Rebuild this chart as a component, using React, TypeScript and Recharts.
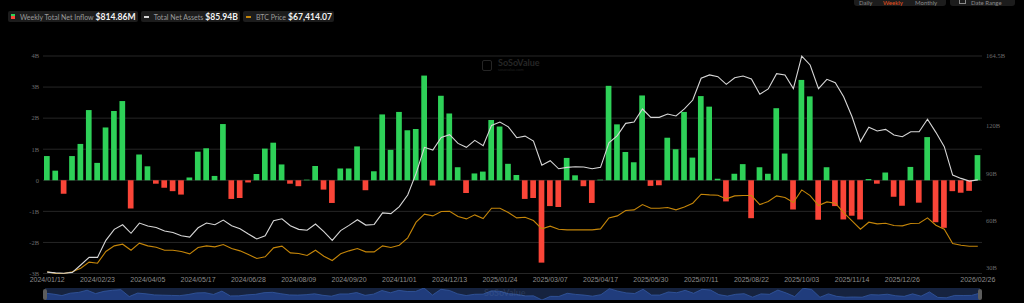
import { ComposedChart, Bar, Line, XAxis, YAxis, CartesianGrid, Cell, AreaChart, Area } from 'recharts';

const dates = [
  '2024/01/12', '2024/01/19', '2024/01/26', '2024/02/02', '2024/02/09', '2024/02/16', '2024/02/23', '2024/03/01',
  '2024/03/08', '2024/03/15', '2024/03/22', '2024/03/28', '2024/04/05', '2024/04/12', '2024/04/19', '2024/04/26',
  '2024/05/03', '2024/05/10', '2024/05/17', '2024/05/24', '2024/05/31', '2024/06/07', '2024/06/14', '2024/06/21',
  '2024/06/28', '2024/07/05', '2024/07/12', '2024/07/19', '2024/07/26', '2024/08/02', '2024/08/09', '2024/08/16',
  '2024/08/23', '2024/08/30', '2024/09/06', '2024/09/13', '2024/09/20', '2024/09/27', '2024/10/04', '2024/10/11',
  '2024/10/18', '2024/10/25', '2024/11/01', '2024/11/08', '2024/11/15', '2024/11/22', '2024/11/29', '2024/12/06',
  '2024/12/13', '2024/12/20', '2024/12/27', '2025/01/03', '2025/01/10', '2025/01/17', '2025/01/24', '2025/01/31',
  '2025/02/07', '2025/02/14', '2025/02/21', '2025/02/28', '2025/03/07', '2025/03/14', '2025/03/21', '2025/03/28',
  '2025/04/04', '2025/04/11', '2025/04/17', '2025/04/25', '2025/05/02', '2025/05/09', '2025/05/16', '2025/05/23',
  '2025/05/30', '2025/06/06', '2025/06/13', '2025/06/20', '2025/06/27', '2025/07/03', '2025/07/11', '2025/07/18',
  '2025/07/25', '2025/08/01', '2025/08/08', '2025/08/15', '2025/08/22', '2025/08/29', '2025/09/05', '2025/09/12',
  '2025/09/19', '2025/09/26', '2025/10/03', '2025/10/10', '2025/10/17', '2025/10/24', '2025/10/31', '2025/11/07',
  '2025/11/14', '2025/11/21', '2025/11/28', '2025/12/05', '2025/12/12', '2025/12/19', '2025/12/26', '2026/01/02',
  '2026/01/09', '2026/01/16', '2026/01/23', '2026/01/30', '2026/02/06', '2026/02/13', '2026/02/20', '2026/02/26',
];

// weekly total net inflow, billions USD
const netInflow = [
  0.78, 0.31, -0.43, 0.78, 1.17, 2.26, 0.56, 1.7, 2.23, 2.55, -0.91, 0.83, 0.45, -0.11, -0.24, -0.35,
  -0.46, 0.09, 0.92, 1.03, 0.14, 1.81, -0.6, -0.57, -0.07, 0.2, 1.02, 1.21, 0.51, -0.11, -0.19, 0.02,
  0.46, -0.3, -0.73, 0.38, 0.38, 1.09, -0.32, 0.29, 2.12, 0.98, 2.2, 1.61, 1.65, 3.37, -0.17, 2.72,
  2.15, 0.42, -0.41, 0.22, 0.28, 1.94, 1.73, 0.53, 0.17, -0.6, -0.57, -2.65, -0.83, -0.86, 0.72, 0.16,
  -0.19, -0.73, 0.02, 3.04, 1.8, 0.91, 0.58, 2.73, -0.18, -0.16, 1.37, 1.0, 2.2, 0.73, 2.71, 2.37,
  0.05, -0.68, 0.21, 0.52, -1.22, 0.42, 0.21, 2.32, 0.86, -0.94, 3.23, 2.7, -1.27, 0.42, -0.83, -1.26,
  -1.14, -1.26, 0.04, -0.11, 0.25, -0.53, -0.82, 0.43, -0.72, 1.39, -1.35, -1.53, -0.35, -0.4, -0.34, 0.81,
];

// total net assets, billions USD
const totalNetAssets = [
  27.5, 27.0, 26.8, 27.3, 32.0, 36.8, 36.8, 47.6, 54.6, 57.5, 52.1, 58.6, 56.7, 55.8, 53.5, 52.6,
  50.5, 49.7, 55.6, 58.6, 57.5, 60.5, 56.9, 55.0, 51.6, 48.5, 50.5, 60.1, 61.3, 56.9, 54.6, 54.0,
  58.0, 53.1, 47.6, 53.8, 57.1, 60.7, 57.3, 57.7, 65.0, 64.6, 69.0, 76.4, 90.1, 106.6, 104.9, 112.9,
  114.6, 109.1, 106.6, 111.0, 107.6, 120.5, 122.6, 119.6, 112.7, 113.7, 110.6, 95.2, 98.1, 93.0, 93.9, 94.3,
  94.1, 93.0, 93.9, 109.5, 114.0, 121.8, 122.6, 130.9, 125.6, 125.6, 127.7, 126.5, 131.0, 136.6, 150.4, 152.5,
  151.4, 146.5, 150.7, 151.8, 149.9, 140.2, 143.6, 153.3, 152.5, 143.8, 164.5, 158.8, 143.8, 149.7, 147.6, 138.7,
  126.0, 110.2, 119.3, 117.0, 118.0, 114.4, 113.3, 116.5, 116.5, 124.4, 116.1, 107.0, 89.0, 86.9, 85.2, 85.94,
];

// BTC price, USD
const btcPrice = [
  42800, 41200, 41200, 42800, 46300, 52080, 51120, 62320, 67760, 69360, 63600, 70320, 67760, 66480, 63600, 63600,
  62320, 60080, 66160, 67760, 66800, 69040, 65200, 62960, 59440, 55600, 57200, 65840, 67440, 61040, 60400, 58480,
  63600, 57840, 53680, 60080, 62960, 65200, 62000, 62000, 67760, 66160, 68400, 75440, 90480, 98160, 96560, 100720,
  101040, 95920, 93680, 97520, 94000, 103920, 103920, 99760, 94640, 95280, 92080, 84080, 86640, 83760, 83120, 83120,
  83120, 83120, 84080, 94640, 96560, 101680, 102320, 107440, 103920, 103920, 104560, 102320, 105000, 108720, 117360, 116720,
  116400, 112880, 115760, 116080, 116080, 107440, 110320, 115760, 114160, 109360, 121520, 116080, 106480, 110000, 108720, 99760,
  91760, 83760, 90480, 88880, 89520, 87280, 86960, 89200, 89520, 94640, 87600, 83760, 70000, 68400, 67440, 67414.07,
];

const flowTicks = [-3, -2, -1, 0, 1, 2, 3, 4];
const assetTicks = [30, 60, 90, 120, 150, 164.5];

const data = dates.map((date, i) => ({
  date,
  inflow: netInflow[i],
  assets: totalNetAssets[i],
  btc: btcPrice[i],
}));

const GREEN = '#2ed158';
const RED = '#fa4538';
const WHITE = '#d6d6d6';
const GOLD = '#c48509';

const XTick = (props: any) => {
  const { x, y, index, payload } = props;
  const show = index === dates.length - 1 || (index % 6 === 0 && index <= 102);
  if (!show) return <g />;
  return (
    <text x={x} y={y + 8.5} textAnchor="middle" fontSize={7} fill="#8c8c8c" fontFamily="'Liberation Sans', Arial, sans-serif">
      {payload.value}
    </text>
  );
};

const YTick = (props: any) => {
  const { x, y, payload, textAnchor } = props;
  const v = payload.value;
  return (
    <text x={x} y={y + 2.3} textAnchor={textAnchor} fontSize={6.5} fill="#6c6c6c" fontFamily="'Liberation Serif', serif">
      {v === 0 ? '0' : `${v}B`}
    </text>
  );
};

function LegendItem({ icon, label, value }: any) {
  return (
    <div
      style={{
        height: 11,
        padding: '0 2px 0 3px',
        background: '#1c1c1c',
        borderRadius: 2,
        display: 'flex',
        alignItems: 'center',
        fontFamily: 'Lato, sans-serif',
        whiteSpace: 'nowrap',
      }}
    >
      <div style={{ marginRight: 5, display: 'flex' }}>{icon}</div>
      <span style={{ fontSize: 7, color: '#9a9a9a', marginRight: 2 }}>{label}</span>
      <span style={{ fontSize: 8.6, color: '#f2f2f2', fontWeight: 700 }}>{value}</span>
    </div>
  );
}

export default function App() {
  return (
    <div style={{ position: 'absolute', left: 0, top: 0, width: 1024, height: 303, background: '#000', overflow: 'hidden' }}>
      {/* top-right period switch */}
      <div style={{ position: 'absolute', left: 854, top: -3, width: 92, height: 9, background: '#1c1c1c', borderRadius: 3, fontFamily: 'Lato, sans-serif', fontSize: 6, lineHeight: '6px' }}>
        <span style={{ position: 'absolute', left: 5, top: 3, color: '#8a8a8a' }}>Daily</span>
        <span style={{ position: 'absolute', left: 29, top: 3, color: '#e8531f' }}>Weekly</span>
        <span style={{ position: 'absolute', left: 61, top: 3, color: '#8a8a8a' }}>Monthly</span>
      </div>
      <div style={{ position: 'absolute', left: 950, top: -3, width: 65, height: 9, background: '#1c1c1c', borderRadius: 3, fontFamily: 'Lato, sans-serif', fontSize: 6, lineHeight: '6px' }}>
        <div style={{ position: 'absolute', left: 9, top: 3, width: 5, height: 3, border: '1px solid #8a8a8a', borderTop: 'none' }} />
        <span style={{ position: 'absolute', left: 21, top: 3, color: '#8a8a8a' }}>Date Range</span>
      </div>

      <div style={{ position: 'absolute', left: 8, top: 11, display: 'flex', gap: 3 }}>
        <LegendItem
          label="Weekly Total Net Inflow"
          value="$814.86M"
          icon={<div style={{ width: 4, height: 5, background: `linear-gradient(${GREEN} 50%, ${RED} 50%)` }} />}
        />
        <LegendItem label="Total Net Assets" value="$85.94B" icon={<div style={{ width: 5, height: 2, background: WHITE }} />} />
        <LegendItem label="BTC Price" value="$67,414.07" icon={<div style={{ width: 5, height: 2, background: GOLD }} />} />
      </div>

      {/* watermark */}
      <div style={{ position: 'absolute', left: 482, top: 58, display: 'flex', alignItems: 'center', fontFamily: 'Lato, sans-serif' }}>
        <div style={{ width: 8, height: 9, border: '1px solid #252525', borderRadius: 2, marginRight: 6 }} />
        <div>
          <div style={{ fontSize: 9, color: '#262626', lineHeight: '9px', fontWeight: 700 }}>SoSoValue</div>
          <div style={{ fontSize: 4, color: '#222', lineHeight: '5px' }}>sosovalue.com</div>
        </div>
      </div>

      <div style={{ position: 'absolute', left: 0, top: 0 }}>
        <ComposedChart width={1024} height={287} data={data} margin={{ top: 56, right: 0, bottom: 0, left: 0 }}>
          <CartesianGrid vertical={false} stroke="#262626" yAxisId="flow" />
          <XAxis dataKey="date" height={13.5} tickSize={0} tickMargin={0} axisLine={false} interval={0} tick={<XTick />} />
          <YAxis
            yAxisId="flow"
            domain={[-3, 4]}
            ticks={flowTicks}
            width={43}
            axisLine={false}
            tickLine={false}
            tickSize={0}
            tickMargin={4}
            tick={<YTick />}
          />
          <YAxis
            yAxisId="assets"
            orientation="right"
            domain={[26.6, 164.5]}
            ticks={assetTicks}
            width={42}
            axisLine={false}
            tickLine={false}
            tickSize={0}
            tickMargin={4}
            tick={<YTick />}
          />
          <YAxis yAxisId="btc" orientation="right" width={0} hide domain={[41360, 250160]} />
          <Bar yAxisId="flow" dataKey="inflow" barSize={5.7} isAnimationActive={false}>
            {data.map((d, i) => (
              <Cell key={i} fill={d.inflow >= 0 ? GREEN : RED} />
            ))}
          </Bar>
          <Line yAxisId="btc" dataKey="btc" stroke={GOLD} strokeWidth={1.1} dot={false} activeDot={false} isAnimationActive={false} />
          <Line yAxisId="assets" dataKey="assets" stroke={WHITE} strokeWidth={1.1} dot={false} activeDot={false} isAnimationActive={false} />
        </ComposedChart>
      </div>

      {/* data zoom strip */}
      <div style={{ position: 'absolute', left: 45, top: 288, width: 935, height: 12, background: '#16233f' }}>
        <AreaChart width={935} height={12} data={data} margin={{ top: 0, right: 0, bottom: 0, left: 0 }}>
          <XAxis dataKey="date" hide />
          <YAxis hide domain={['dataMin', 'dataMax']} />
          <Area dataKey="inflow" baseValue="dataMin" stroke="#34589f" strokeWidth={0.8} fill="#203c7c" fillOpacity={1} isAnimationActive={false} />
        </AreaChart>
      </div>
      <div style={{ position: 'absolute', left: 43, top: 289, width: 4, height: 11, background: '#5c5c5c', borderRadius: 2 }} />
      <div style={{ position: 'absolute', left: 978, top: 289, width: 4, height: 11, background: '#5c5c5c', borderRadius: 2 }} />
      <div style={{ position: 'absolute', left: 484, top: 287, fontFamily: 'Lato, sans-serif', fontSize: 9, fontWeight: 700, color: 'rgba(120,140,180,0.18)' }}>
        SoSoValue
      </div>
    </div>
  );
}
